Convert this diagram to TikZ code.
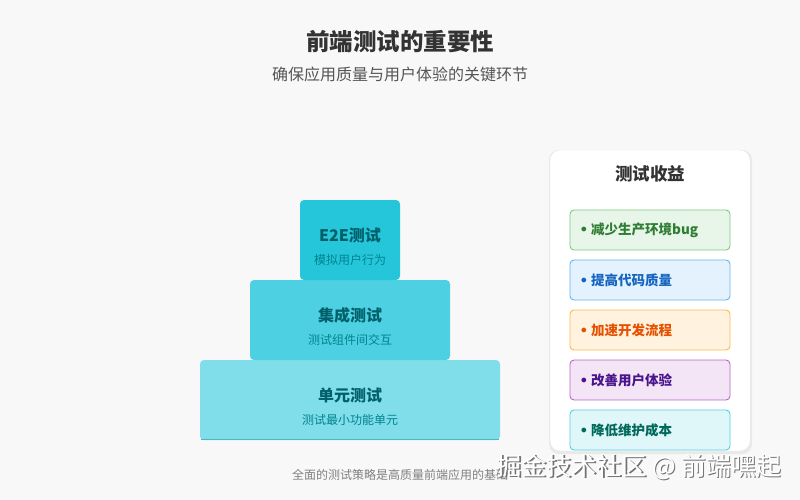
\documentclass[tikz,border=0pt]{standalone}
\usepackage{fontspec}
\setmainfont{Noto Sans CJK SC}
\newfontfamily\bulletfont{DejaVu Sans}
\definecolor{bgc}{HTML}{F8F8F8}
\definecolor{titlec}{HTML}{333333}
\definecolor{subc}{HTML}{555555}
\definecolor{tealA}{HTML}{26C6DA}
\definecolor{tealB}{HTML}{4DD0E1}
\definecolor{tealC}{HTML}{80DEEA}
\definecolor{tealLine}{HTML}{4DB6C4}
\definecolor{pyrT}{HTML}{00606A}
\definecolor{pyrS}{HTML}{00838F}
\definecolor{gF}{HTML}{E8F5E9}\definecolor{gD}{HTML}{81C784}\definecolor{gT}{HTML}{2E7D32}
\definecolor{bF}{HTML}{E3F2FD}\definecolor{bD}{HTML}{64B5F6}\definecolor{bT}{HTML}{1565C0}
\definecolor{oF}{HTML}{FFF3E0}\definecolor{oD}{HTML}{FFB74D}\definecolor{oT}{HTML}{E65100}
\definecolor{pF}{HTML}{F3E5F5}\definecolor{pD}{HTML}{BA68C8}\definecolor{pT}{HTML}{4A148C}
\definecolor{cF}{HTML}{E0F7FA}\definecolor{cD}{HTML}{4DD0E1}\definecolor{cT}{HTML}{00695C}
\newcommand{\bul}{{\bulletfont •}\hspace{3pt}}
\begin{document}
\begin{tikzpicture}[x=1pt,y=-1pt,
  pyrtitle/.style={font=\fontsize{16}{19}\selectfont\bfseries, text=pyrT},
  pyrsub/.style={font=\fontsize{12}{14}\selectfont, text=pyrS},
  benefit/.style={draw=#1D, fill=#1F, rounded corners=4pt, line width=0.9pt},
  btext/.style={font=\fontsize{13.5}{16}\selectfont\bfseries, anchor=west}
]
\fill[bgc] (0,0) rectangle (800,500);
\useasboundingbox (0,0) rectangle (800,500);

\node[font=\fontsize{23.5}{28}\selectfont\bfseries, text=titlec] (title) at (400,42) {前端测试的重要性};
\node[font=\fontsize{16}{19}\selectfont, text=subc] (subtitle) at (400,74) {确保应用质量与用户体验的关键环节};

% pyramid
\fill[tealC, rounded corners=4pt] (200,360) rectangle (500,440);
\draw[tealLine, line width=1.2pt] (201,439.4) -- (499,439.4);
\fill[tealB, rounded corners=4pt] (250,280) rectangle (450,360);
\fill[tealA, rounded corners=4pt] (300,200) rectangle (400,280);
\node[pyrtitle] (e2e) at (350,235) {E2E测试};
\node[pyrsub] (e2es) at (350,260) {模拟用户行为};
\node[pyrtitle] (integ) at (350,315) {集成测试};
\node[pyrsub] (integs) at (350,340) {测试组件间交互};
\node[pyrtitle] (unit) at (350,395) {单元测试};
\node[pyrsub] (units) at (350,420) {测试最小功能单元};

% panel
\fill[black, opacity=0.06, rounded corners=10pt] (549,150) rectangle (752,454);
\filldraw[fill=white, draw=black!8, rounded corners=10pt] (550,150) rectangle (750,451);
\node[font=\fontsize{17.5}{21}\selectfont\bfseries, text=titlec] (ptitle) at (650,174) {测试收益};

\draw[benefit=g] (570,210) rectangle (730,250);
\node[btext, text=gT] (b1) at (576,230) {\bul 减少生产环境bug};
\draw[benefit=b] (570,260) rectangle (730,300);
\node[btext, text=bT] (b2) at (576,280) {\bul 提高代码质量};
\draw[benefit=o] (570,310) rectangle (730,350);
\node[btext, text=oT] (b3) at (576,330) {\bul 加速开发流程};
\draw[benefit=p] (570,360) rectangle (730,400);
\node[btext, text=pT] (b4) at (576,380) {\bul 改善用户体验};
\draw[benefit=c] (570,410) rectangle (730,450);
\node[btext, text=cT] (b5) at (576,430) {\bul 降低维护成本};

\node[font=\fontsize{12}{14}\selectfont, text=black!50] (foot) at (400,475) {全面的测试策略是高质量前端应用的基础};

% watermark
\node[font=\fontsize{25}{30}\selectfont, text=black!55, anchor=east] at (786.4,468.4) {掘金技术社区 @ 前端嘿起};
\node[font=\fontsize{25}{30}\selectfont, text=white, anchor=east] (wm) at (785,467) {掘金技术社区 @ 前端嘿起};
\end{tikzpicture}
\end{document}
